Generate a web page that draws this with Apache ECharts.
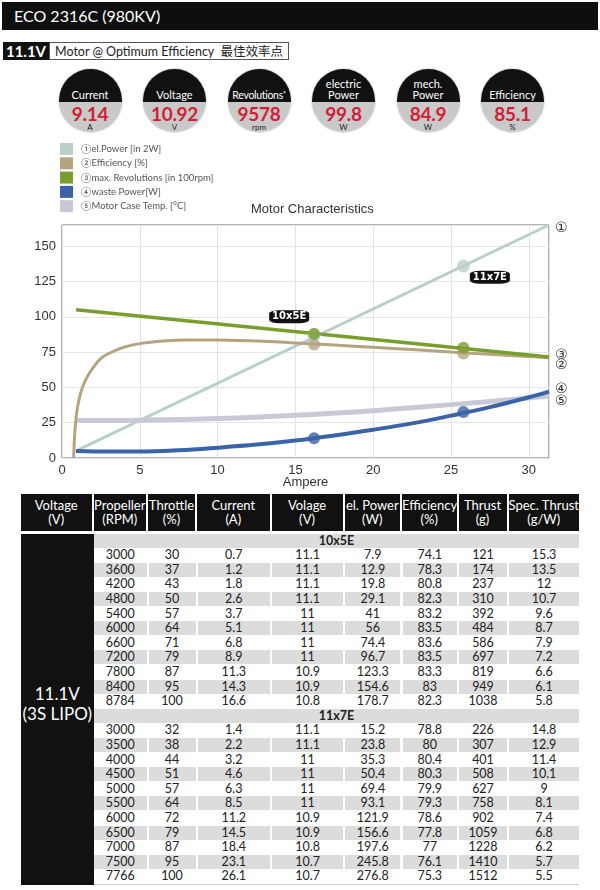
<!DOCTYPE html>
<html><head><meta charset="utf-8">
<script src="https://cdn.jsdelivr.net/npm/echarts/dist/echarts.min.js"></script>
<style>
body{margin:0;width:600px;height:890px;position:relative;background:#fff;overflow:hidden;font-family:Lato,'Open Sans','Noto Sans CJK SC',sans-serif;}
.abs{position:absolute;box-sizing:border-box;}
.gauge{position:absolute;width:63px;height:63px;border-radius:50%;overflow:hidden;background:#c9c9c9;box-shadow:0 0 0 1px #e2e2e2;}
.gtop{position:absolute;left:0;top:0;width:63px;height:33px;background:#111;color:#fff;font-size:11px;line-height:10.5px;text-align:center;display:flex;flex-direction:column;justify-content:flex-end;padding-bottom:2px;box-sizing:border-box;white-space:nowrap;}
.gval{position:absolute;left:0;width:63px;top:35px;text-align:center;color:#d21f33;font-weight:bold;font-size:19px;line-height:19px;letter-spacing:-0.3px;}
.gunit{position:absolute;left:0;width:63px;top:54px;text-align:center;color:#222;font-size:8px;line-height:8px;}
.cell{position:absolute;box-sizing:border-box;text-align:center;color:#222;font-size:12.5px;font-family:Lato,'Open Sans',sans-serif;}
.hd{background:#111;color:#fff;font-size:13px;line-height:14.5px;padding-top:3.5px;white-space:nowrap;}
</style></head>
<body>
<div class="abs" style="left:2px;top:2px;width:596px;height:28px;background:#0e0e0e;color:#fff;font-size:16px;line-height:28px;padding-left:12px;">ECO 2316C (980KV)</div>
<div class="abs" style="left:3px;top:42px;width:46px;height:18px;background:#111;color:#fff;font-weight:bold;font-size:15px;line-height:18px;text-align:center;">11.1V</div>
<div class="abs" style="left:49px;top:42px;width:240px;height:18px;border:1px solid #555;color:#222;font-size:12.5px;line-height:16px;padding-left:5px;white-space:nowrap;">Motor @ Optimum Efficiency&nbsp;&nbsp;<span style="font-family:'Noto Sans CJK SC'">最佳效率点</span></div>
<div id="gauges"></div>
<div id="chart" class="abs" style="left:0;top:135px;width:600px;height:355px;"></div>
<div id="table"></div>
<script>
// ---------- Gauges ----------
const gaugeLabels = ['Current', 'Voltage', 'Revolutions<span style="font-size:7px;vertical-align:top;line-height:8px">*</span>', 'electric<br>Power', 'mech.<br>Power', 'Efficiency'];
const gaugeValues = ['9.14', '10.92', '9578', '99.8', '84.9', '85.1'];
const gaugeUnits = ['A', 'V', 'rpm', 'W', 'W', '%'];

// ---------- Chart data ----------
const seriesNames = ['①el.Power [in 2W]', '②Efficiency [%]', '③max. Revolutions [in 100rpm]', '④waste Power[W]', '⑤Motor Case Temp. [°C]'];
const powerAmps = [0.9, 31.3];
const powerVals = [5, 165];
const effAmps = [0.75, 0.8, 0.9, 1.0, 1.2, 1.5, 2.0, 2.5, 3.0, 4.0, 5.0, 6.5, 8, 10, 12.5, 15, 17.5, 20, 22.5, 25, 27.5, 30, 31.3];
const effVals = [0, 14, 28, 36, 46, 55, 64, 70.5, 74, 78.5, 81, 82.8, 83.5, 83.5, 82.8, 81.5, 80, 78.4, 76.8, 75, 73.5, 71.8, 71];
const revAmps = [0.9, 31.3];
const revVals = [105, 71.5];
const wasteAmps = [0.9, 3, 5, 7.5, 10, 12.5, 15, 17.5, 20, 22.5, 25, 27.5, 30, 31.3];
const wasteVals = [5, 4.6, 4.6, 5.5, 7.3, 9.5, 12.4, 16, 20, 24.5, 30, 36, 43, 47];
const tempAmps = [0.9, 5, 10, 15, 20, 25, 30, 31.3];
const tempVals = [26.5, 26.8, 28, 30.3, 33.5, 37.8, 42.5, 44];
const markerAmps = [16.2, 25.8];
const powerMarks = [87, 136];
const effMarks = [80.3, 74];
const revMarks = [88, 78];
const wasteMarks = [14, 32.5];
const propNames = ['10x5E', '11x7E'];
const propLabelAmps = [14.6, 27.5];
const propLabelVals = [100, 128];
const xTicks = [0, 5, 10, 15, 20, 25, 30];
const yTicks = [0, 25, 50, 75, 100, 125, 150];

// ---------- Table data ----------
const tableHeaders = ['Voltage<br>(V)', 'Propeller<br>(RPM)', 'Throttle<br>(%)', 'Current<br>(A)', 'Volage<br>(V)', 'el. Power<br>(W)', 'Efficiency<br>(%)', 'Thrust<br>(g)', 'Spec. Thrust<br>(g/W)'];
const batteryLabel = ['11.1V', '(3S LIPO)'];
const rows10x5E = [
  [3000, 30, 0.7, 11.1, 7.9, 74.1, 121, 15.3],
  [3600, 37, 1.2, 11.1, 12.9, 78.3, 174, 13.5],
  [4200, 43, 1.8, 11.1, 19.8, 80.8, 237, 12],
  [4800, 50, 2.6, 11.1, 29.1, 82.3, 310, 10.7],
  [5400, 57, 3.7, 11, 41, 83.2, 392, 9.6],
  [6000, 64, 5.1, 11, 56, 83.5, 484, 8.7],
  [6600, 71, 6.8, 11, 74.4, 83.6, 586, 7.9],
  [7200, 79, 8.9, 11, 96.7, 83.5, 697, 7.2],
  [7800, 87, 11.3, 10.9, 123.3, 83.3, 819, 6.6],
  [8400, 95, 14.3, 10.9, 154.6, 83, 949, 6.1],
  [8784, 100, 16.6, 10.8, 178.7, 82.3, 1038, 5.8]
];
const rows11x7E = [
  [3000, 32, 1.4, 11.1, 15.2, 78.8, 226, 14.8],
  [3500, 38, 2.2, 11.1, 23.8, 80, 307, 12.9],
  [4000, 44, 3.2, 11, 35.3, 80.4, 401, 11.4],
  [4500, 51, 4.6, 11, 50.4, 80.3, 508, 10.1],
  [5000, 57, 6.3, 11, 69.4, 79.9, 627, 9],
  [5500, 64, 8.5, 11, 93.1, 79.3, 758, 8.1],
  [6000, 72, 11.2, 10.9, 121.9, 78.6, 902, 7.4],
  [6500, 79, 14.5, 10.9, 156.6, 77.8, 1059, 6.8],
  [7000, 87, 18.4, 10.8, 197.6, 77, 1228, 6.2],
  [7500, 95, 23.1, 10.7, 245.8, 76.1, 1410, 5.7],
  [7766, 100, 26.1, 10.7, 276.8, 75.3, 1512, 5.5]
];

// ---------- Build gauges ----------
(function(){
  const g = document.getElementById('gauges');
  let html = '';
  gaugeLabels.forEach((lab, i) => {
    const cx = 90 + i * 84.5;
    const ls = i === 2 ? 'font-size:10.5px;letter-spacing:-0.3px;' : '';
    html += '<div class="gauge" style="left:' + (cx - 31.5) + 'px;top:69px;">' +
      '<div class="gtop" style="' + ls + '"><div>' + lab + '</div></div>' +
      '<div class="gval">' + gaugeValues[i] + '</div>' +
      '<div class="gunit">' + gaugeUnits[i] + '</div></div>';
  });
  g.innerHTML = html;
})();

// ---------- Build table ----------
(function(){
  const t = document.getElementById('table');
  const edges = [21, 93.5, 148, 197, 271.5, 344.6, 402, 458.5, 508.5, 579];
  let html = '';
  tableHeaders.forEach((h, i) => {
    const w = edges[i + 1] - edges[i] - (i < 8 ? 2 : 0);
    html += '<div class="cell hd" style="left:' + edges[i] + 'px;top:494px;width:' + w + 'px;height:37px;">' + h + '</div>';
  });
  const top0 = 533.5, rh = 14.6;
  html += '<div class="cell" style="left:21px;top:' + top0 + 'px;width:72.5px;height:' + (rh * 24 + 1) + 'px;background:#111;color:#fff;font-size:17px;line-height:20px;padding-top:' + (rh * 24 / 2 - 25) + 'px;">' + batteryLabel[0] + '<br>' + batteryLabel[1] + '</div>';
  let r = 0;
  const blocks = [['10x5E', rows10x5E], ['11x7E', rows11x7E]];
  blocks.forEach(([name, rows]) => {
    html += '<div class="cell" style="left:94px;top:' + (top0 + r * rh) + 'px;width:485px;height:' + (rh - 0.5) + 'px;background:#dcdcdc;font-weight:bold;line-height:' + rh + 'px;">' + name + '</div>';
    r++;
    rows.forEach((row, k) => {
      const gray = k % 2 === 1;
      row.forEach((v, c) => {
        const l = edges[c + 1] + 0.5;
        const w = edges[c + 2] - edges[c + 1] - (c < 7 ? 2 : 0.5);
        html += '<div class="cell" style="left:' + l + 'px;top:' + (top0 + r * rh) + 'px;width:' + w + 'px;height:' + (rh - 0.5) + 'px;' + (gray ? 'background:#dcdcdc;' : '') + 'line-height:' + rh + 'px;">' + v + '</div>';
      });
      r++;
    });
  });
  html += '<div class="abs" style="left:94px;top:' + (top0 + r * rh + 0.5) + 'px;width:485px;height:1px;background:#ccc;"></div>';
  t.innerHTML = html;
})();

// ---------- Chart ----------
const C = {power:'#b9cfca', eff:'#b5a47f', rev:'#7a9e2e', waste:'#3b63a8', temp:'#c9c9d6'};
const pair = (xs, ys) => xs.map((x, i) => [x, ys[i]]);
const chart = echarts.init(document.getElementById('chart'));
const font = "'Liberation Sans', Arial, sans-serif";
const endLab = (txt, dy) => ({show:true, formatter:txt, fontSize:14, color:'#333', fontFamily:"'DejaVu Sans', sans-serif", distance:6, offset:[0, dy]});
chart.setOption({
  animation:false,
  textStyle:{fontFamily:font},
  title:{text:'Motor Characteristics', left:246, top:63, textStyle:{fontSize:13, fontWeight:'normal', color:'#333', fontFamily:font}},
  legend:{orient:'vertical', left:55, top:3, itemWidth:13, itemHeight:12, itemGap:2.3, icon:'rect', selectedMode:false,
    data:seriesNames, textStyle:{fontSize:9.5, color:'#555', padding:[0,0,0,3], fontFamily:"Lato, 'DejaVu Sans', sans-serif"}},
  grid:{left:62, right:51, top:90, bottom:32, show:true, borderColor:'#666', borderWidth:1, backgroundColor:'#fff', containLabel:false, outerBoundsMode:'none'},
  xAxis:{type:'value', min:0, max:31.3, interval:5, name:'Ampere', nameLocation:'middle', nameGap:24, nameMoveOverlap:false,
    nameTextStyle:{fontSize:13, color:'#333', verticalAlign:'middle'},
    axisLabel:{fontSize:13, color:'#333', showMaxLabel:false, margin:6, formatter:v => xTicks.includes(v) ? String(v) : ''},
    axisLine:{show:false}, axisTick:{show:false}, splitLine:{lineStyle:{color:'#e2e2e2'}}},
  yAxis:{type:'value', min:0, max:165, interval:25,
    axisLabel:{fontSize:13, color:'#333', showMaxLabel:false, margin:6, formatter:v => yTicks.includes(v) ? String(v) : ''},
    axisLine:{show:false}, axisTick:{show:false}, splitLine:{lineStyle:{color:'#e6e6e6'}}},
  series:[
    {name:seriesNames[0], type:'line', data:pair(powerAmps, powerVals), showSymbol:false, silent:true, z:2,
      lineStyle:{color:C.power, width:3}, itemStyle:{color:C.power}, endLabel:endLab('①', 3)},
    {name:seriesNames[4], type:'line', data:pair(tempAmps, tempVals), showSymbol:false, smooth:0.4, silent:true, z:2,
      lineStyle:{color:C.temp, width:5}, itemStyle:{color:C.temp}, endLabel:endLab('⑤', 5)},
    {name:seriesNames[1], type:'line', data:pair(effAmps, effVals), showSymbol:false, smooth:0.3, silent:true, z:3,
      lineStyle:{color:C.eff, width:3}, itemStyle:{color:C.eff}, endLabel:endLab('②', 8)},
    {name:seriesNames[2], type:'line', data:pair(revAmps, revVals), showSymbol:false, silent:true, z:4,
      lineStyle:{color:C.rev, width:3.5}, itemStyle:{color:C.rev}, endLabel:endLab('③', -2),
      markPoint:{symbol:'roundRect', symbolSize:[40, 13], silent:true, itemStyle:{color:'#111'},
        label:{color:'#fff', fontWeight:'bold', fontSize:10, formatter:'{b}', fontFamily:"'DejaVu Sans', sans-serif"},
        data:propNames.map((n, i) => ({name:n, coord:[propLabelAmps[i], propLabelVals[i]]}))}},
    {name:seriesNames[3], type:'line', data:pair(wasteAmps, wasteVals), showSymbol:false, smooth:0.4, silent:true, z:5,
      lineStyle:{color:C.waste, width:4}, itemStyle:{color:C.waste}, endLabel:endLab('④', -2)},
    {type:'scatter', data:pair(markerAmps, powerMarks), symbolSize:13, itemStyle:{color:C.power}, silent:true, z:6},
    {type:'scatter', data:pair(markerAmps, effMarks), symbolSize:12, itemStyle:{color:C.eff}, silent:true, z:6},
    {type:'scatter', data:pair(markerAmps, revMarks), symbolSize:12, itemStyle:{color:C.rev}, silent:true, z:7},
    {type:'scatter', data:pair(markerAmps, wasteMarks), symbolSize:12, itemStyle:{color:C.waste}, silent:true, z:7}
  ]
});
</script>
</body></html>
